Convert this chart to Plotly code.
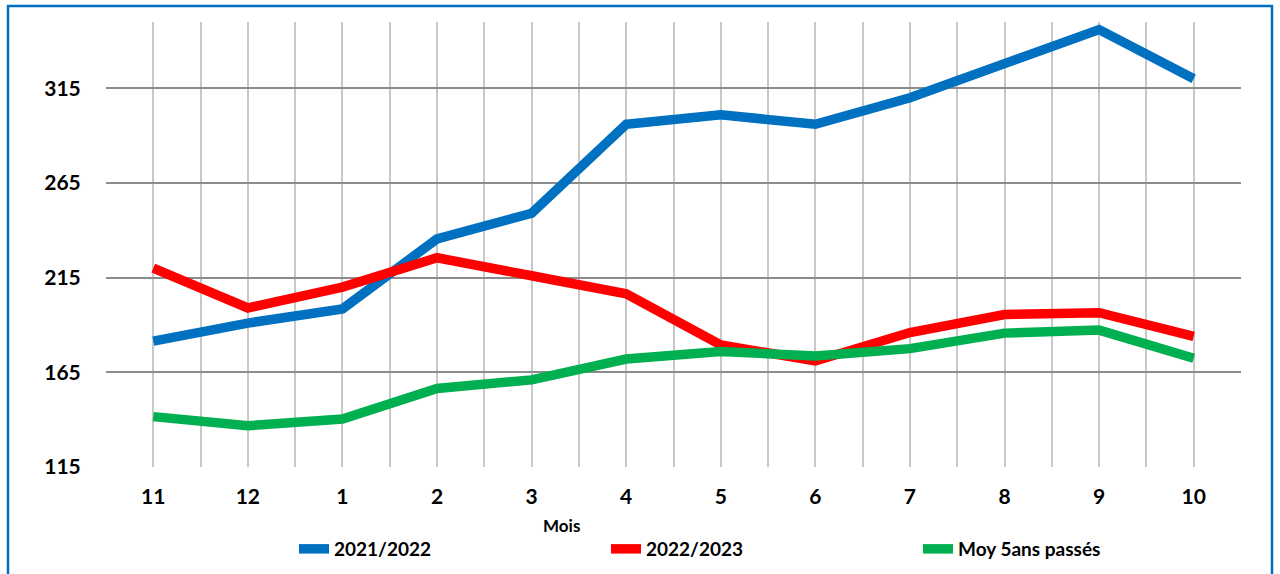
import plotly.graph_objects as go

months = ["11", "12", "1", "2", "3", "4", "5", "6", "7", "8", "9", "10"]
s_2021_2022 = [181.5, 191, 198.5, 235.5, 249, 296, 301, 296, 310, 328, 346, 320]
s_2022_2023 = [220, 199, 210, 225.5, 216, 206.5, 179.5, 171, 186, 195.5, 196.5, 184]
s_moy5 = [141.6, 136.8, 140.3, 156.5, 161, 172, 176, 173.6, 177.5, 185.7, 187.3, 172.4]
y_ticks = [115, 165, 215, 265, 315]
names = ["2021/2022", "2022/2023", "Moy 5ans passés"]
colors = ["#0070C0", "#FF0000", "#00B050"]

xs = list(range(len(months)))
FONT = "Lato"

fig = go.Figure()
for name, vals, col in zip(names, [s_2021_2022, s_2022_2023, s_moy5], colors):
    fig.add_trace(go.Scatter(x=xs, y=vals, mode="lines", name=name,
                             line=dict(color=col, width=9.5)))

L, R, T, B = 106, 1241, 22, 467
W, H = 1280, 574
pw, ph = R - L, B - T

fig.update_layout(
    width=W, height=H,
    margin=dict(l=L, r=W - R, t=T, b=H - B, autoexpand=False),
    paper_bgcolor="white", plot_bgcolor="white",
    font=dict(family=FONT, color="black"),
    showlegend=True,
    legend=dict(orientation="h", x=(335 - 41 - L) / pw, xanchor="left",
                y=(B - 549) / ph, yanchor="middle",
                font=dict(family=FONT, size=19, color="black", weight="bold"),
                entrywidth=267, entrywidthmode="pixels",
                bgcolor="rgba(0,0,0,0)", traceorder="normal"),
    xaxis=dict(range=[-0.5, len(months) - 0.5], tickmode="array",
               tickvals=xs, ticktext=months, showgrid=True,
               gridcolor="#C8C8C8", gridwidth=1.5, zeroline=False,
               showline=False, ticks="outside", ticklen=11,
               tickcolor="rgba(0,0,0,0)",
               tickfont=dict(family=FONT, size=21, color="black", weight="bold"),
               minor=dict(tickvals=[x - 0.5 for x in xs] + [len(months) - 0.5],
                          showgrid=True, gridcolor="#C8C8C8", gridwidth=1.5,
                          ticks="")),
    yaxis=dict(range=[115, 350], tickmode="array", tickvals=y_ticks,
               ticktext=[str(v) for v in y_ticks], showgrid=True,
               gridcolor="#8C8C8C", gridwidth=1.5, zeroline=False,
               showline=False, ticks="outside", ticklen=20,
               tickcolor="rgba(0,0,0,0)",
               tickfont=dict(family=FONT, size=21, color="black", weight="bold")),
    annotations=[dict(text="Mois", xref="paper", yref="paper",
                      x=(561 - L) / pw, y=(B - 525) / ph, xanchor="center",
                      yanchor="middle", showarrow=False,
                      font=dict(family=FONT, size=17, color="black", weight="bold"))],
    shapes=[dict(type="rect", xref="paper", yref="paper",
                 x0=(8 - L) / pw, x1=(1272 - L) / pw,
                 y0=(B - 590) / ph, y1=(B - 6) / ph,
                 line=dict(color="#0070C0", width=2.5), layer="above")],
)

fig.write_html("out.html", config={"displayModeBar": False},
               post_script="document.body.style.margin='0px';document.body.style.overflow='hidden';")
